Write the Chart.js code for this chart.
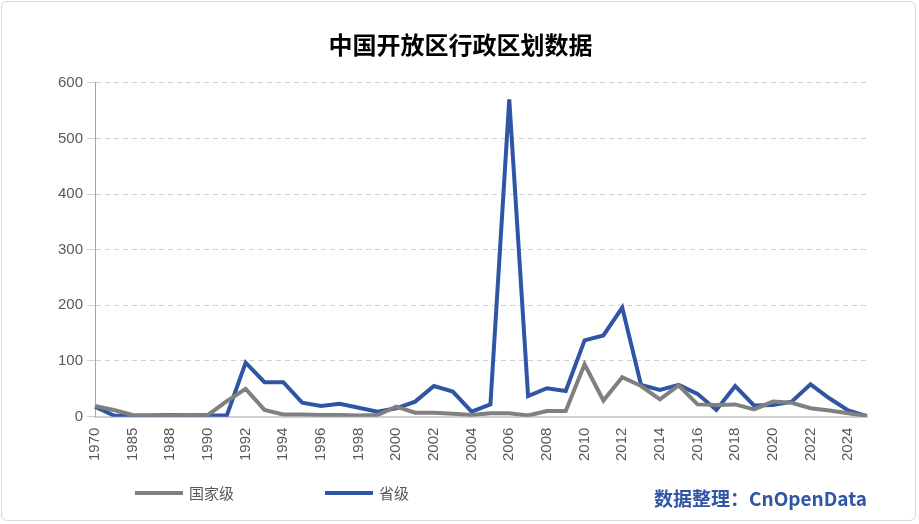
<!DOCTYPE html>
<html><head><meta charset="utf-8">
<script src="https://cdn.jsdelivr.net/npm/chart.js@4"></script>
<style>
html,body{margin:0;padding:0;background:#fff;}
#wrap{position:absolute;left:1px;top:1px;width:915px;height:520px;border:1px solid #d9d9d9;border-radius:6px;box-sizing:border-box;}
#src{position:absolute;right:52px;top:484px;font:bold 19px "Noto Sans CJK SC";color:#2f55a4;}
.lg{position:absolute;top:482px;font:15px "Noto Sans CJK SC";color:#595959;display:flex;align-items:center;}
.lg span{display:inline-block;width:48px;height:4px;margin-right:6px;}
</style></head><body>
<div id="wrap"><canvas id="c" width="915" height="520"></canvas></div>
<div class="lg" style="left:135px"><span style="background:#808080"></span>国家级</div>
<div class="lg" style="left:325px"><span style="background:#2f55a4"></span>省级</div>
<div id="src">数据整理：CnOpenData</div>
<script>
const years=['1970','1984','1985','1987','1988','1989','1990','1991','1992','1993','1994','1995','1996','1997','1998','1999','2000','2001','2002','2003','2004','2005','2006','2007','2008','2009','2010','2011','2012','2013','2014','2015','2016','2017','2018','2019','2020','2021','2022','2023','2024','2025'];
const national=[19,12,3,2,2,3,3,28,50,12,4,4,3,3,2,3,18,7,7,5,3,6,6,2,10,10,94,29,71,55,31,56,22,21,22,13,27,25,15,11,6,1];
const provincial=[18,2,1,2,3,2,2,2,97,62,62,25,19,23,16,9,15,27,55,45,9,22,570,37,51,46,137,146,196,57,48,57,41,12,55,20,21,27,58,33,11,1];
const yTicks=[0,100,200,300,400,500,600];
new Chart(document.getElementById('c'),{type:'line',
data:{labels:years,datasets:[
{label:'国家级',data:national,borderColor:'#808080',backgroundColor:'#808080',borderWidth:4,pointRadius:0,tension:0},
{label:'省级',data:provincial,borderColor:'#2f55a4',backgroundColor:'#2f55a4',borderWidth:4,pointRadius:0,tension:0}]},
options:{responsive:false,animation:false,
layout:{padding:{left:52,right:50,top:10,bottom:58}},
plugins:{title:{display:true,text:'中国开放区行政区划数据',font:{family:'Noto Sans CJK SC',size:24,weight:'bold'},color:'#000',padding:{top:18,bottom:24}},
legend:{display:false},tooltip:{enabled:false}},
scales:{x:{offset:false,grid:{display:false},border:{color:'#d0d0d0',width:2},
ticks:{autoSkip:false,maxRotation:90,minRotation:90,color:'#595959',font:{family:'Liberation Sans',size:15},callback:function(v,i){return i%2===0?years[i]:'';}}},
y:{min:0,max:600,afterBuildTicks:a=>{a.ticks=yTicks.map(v=>({value:v}));},grid:{color:'#d0d0d0',drawTicks:true,tickLength:8},border:{color:'#a6a6a6',display:true,dash:[5,4]},
ticks:{color:'#595959',font:{family:'Liberation Sans',size:15},padding:4}}}}});
</script></body></html>
